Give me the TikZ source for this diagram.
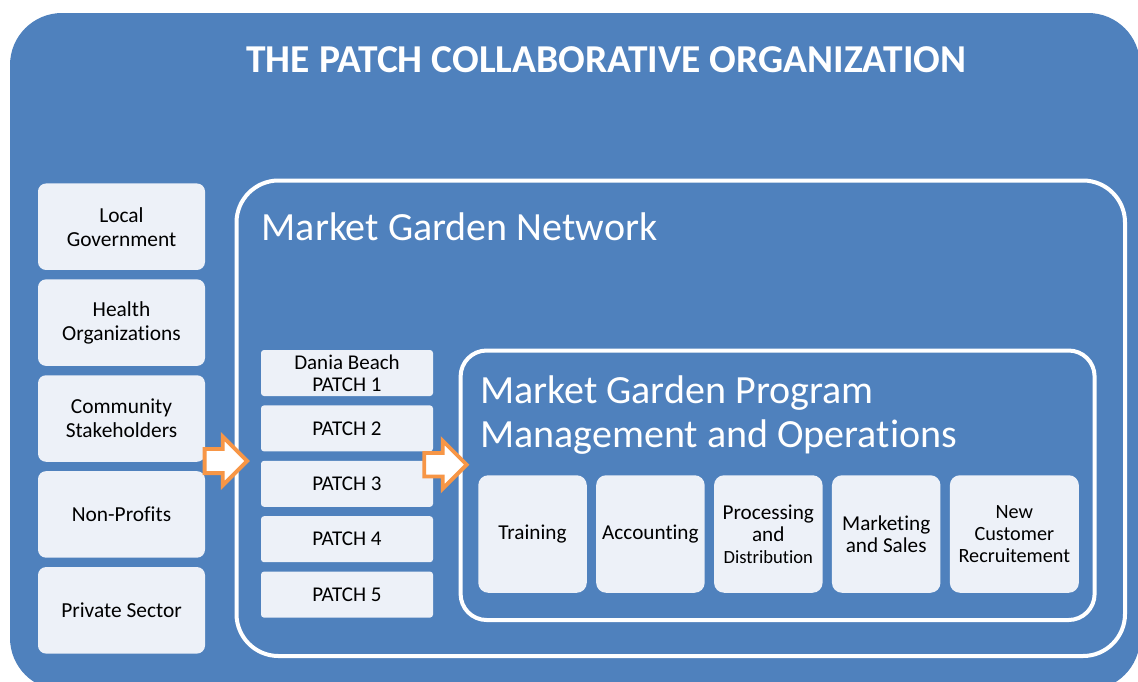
\documentclass[tikz,border=0pt]{standalone}
\usepackage{fontspec}
\setmainfont{Carlito}[Ligatures={NoCommon,NoRequired,NoContextual}]
\usetikzlibrary{positioning,shapes.arrows}
\definecolor{OrgBlue}{HTML}{4F81BD}
\definecolor{BoxFill}{HTML}{EDF1F8}
\definecolor{FlowOrange}{HTML}{F79646}

\begin{document}
\begin{tikzpicture}[x=1pt,y=-1pt,node distance=9pt,
  member/.style={fill=BoxFill,rounded corners=8pt,minimum width=167pt,minimum height=86.5pt,align=center,inner sep=2pt,font=\fontsize{21.4}{24}\selectfont},
  patch/.style={fill=BoxFill,rounded corners=3pt,minimum width=172pt,minimum height=46pt,align=center,inner sep=1pt,font=\fontsize{21}{22.3}\selectfont},
  task/.style={fill=BoxFill,rounded corners=10pt,minimum width=108.5pt,minimum height=117.5pt,align=center,inner sep=2pt,font=\fontsize{21.2}{22}\selectfont},
  zone/.style={draw=white,line width=4pt,inner sep=0pt},
  heading/.style={text=white,inner sep=0pt,font=\fontsize{40}{44}\selectfont},
  flow/.style={single arrow,draw=FlowOrange,fill=white,line width=3.8pt,inner xsep=0pt,inner ysep=10.2pt,minimum height=42.5pt,minimum width=44.8pt,single arrow head extend=12.2pt}]
\useasboundingbox (0,0) rectangle (1138,681);
\fill[white] (0,0) rectangle (1138,681);
\fill[OrgBlue,rounded corners=52pt] (10,13) rectangle (1140,690);
\node[heading,font=\fontsize{39.5}{44}\selectfont\bfseries,anchor=base] (title) at (606.5,72) {THE PATCH COLLABORATIVE ORGANIZATION};

\node[member] (gov) at (121.5,226.7) {Local\\Government};
\node[member,below=of gov] (health) {Health\\Organizations};
\node[member,below=of health] (community) {Community\\Stakeholders};
\node[member,below=of community] (nonprofit) {Non-Profits};
\node[member,below=of nonprofit] (private) {Private Sector};

\node[zone,rounded corners=42pt,minimum width=888.5pt,minimum height=475.5pt] (network) at (680.75,418.25) {};
\node[heading,anchor=base west] (networklabel) at (261.5,240.7) {Market Garden Network};

\node[patch] (p1) at (347,373) {Dania Beach\\PATCH 1};
\node[patch,below=of p1] (p2) {PATCH 2};
\node[patch,below=of p2] (p3) {PATCH 3};
\node[patch,below=of p3] (p4) {PATCH 4};
\node[patch,below=of p4] (p5) {PATCH 5};

\node[zone,rounded corners=26pt,minimum width=634pt,minimum height=269.5pt] (program) at (777.6,485.25) {};
\node[heading,anchor=base west,align=left] (programlabel) at (480,447) {Market Garden Program\\Management and Operations};

\node[task] (training) at (532.5,534) {Training};
\node[task,right=9pt of training] (accounting) {Accounting};
\node[task,right=9pt of accounting] (processing) {Processing\\and\\{\fontsize{18.6}{21.6}\selectfont Distribution}};
\node[task,right=9pt of processing] (marketing) {Marketing\\and Sales};
\node[task,right=9pt of marketing,minimum width=129pt,font=\fontsize{20.2}{21.7}\selectfont] (recruit) {New\\Customer\\Recruitement};

\node[flow] (toNetwork) at (219.8,461) {};
\node[flow,inner ysep=9.9pt,minimum width=45.4pt] (toProgram) at (439.5,464.7) {};
\end{tikzpicture}
\end{document}
